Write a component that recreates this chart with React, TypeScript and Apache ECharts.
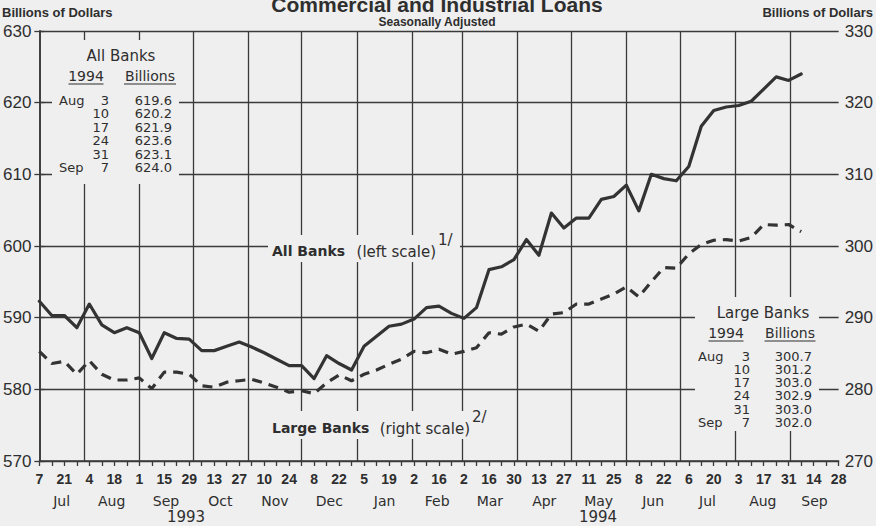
import React, { useEffect, useRef } from "react";
import * as echarts from "echarts";

// ---------- data ----------
const START_UTC = Date.UTC(1993, 6, 7); // Wed, Jul 7 1993 (first weekly observation)
const END_WEEK = 64; // axis runs to Sep 28 1994

const allBanks = [
  592.3, 590.3, 590.3, 588.6, 591.9, 589.0, 587.9, 588.6, 587.9, 584.3,
  587.9, 587.1, 587.0, 585.4, 585.4, 586.0, 586.6, 585.9, 585.1, 584.2,
  583.3, 583.3, 581.5, 584.7, 583.6, 582.7, 586.0, 587.4, 588.8, 589.1,
  589.8, 591.4, 591.6, 590.6, 589.9, 591.4, 596.7, 597.1, 598.1, 600.9,
  598.7, 604.6, 602.5, 603.9, 603.9, 606.5, 606.9, 608.5, 604.9, 610.0,
  609.4, 609.1, 611.1, 616.7, 618.9, 619.4, 619.6, 620.2, 621.9, 623.6,
  623.1, 624.0,
];

const largeBanks = [
  285.3, 283.6, 283.9, 282.1, 284.0, 282.1, 281.3, 281.3, 281.6, 280.1,
  282.4, 282.4, 282.1, 280.5, 280.3, 281.0, 281.2, 281.4, 280.9, 280.3,
  279.6, 279.8, 279.4, 280.9, 282.0, 281.2, 282.1, 282.7, 283.5, 284.2,
  285.3, 285.1, 285.6, 284.9, 285.3, 285.8, 287.9, 287.7, 288.7, 289.1,
  288.1, 290.5, 290.7, 291.9, 291.9, 292.6, 293.3, 294.3, 292.9, 295.0,
  297.0, 296.9, 298.9, 300.2, 300.8, 300.9, 300.7, 301.2, 303.0, 302.9,
  303.0, 302.0,
];

const dayTickLabels = [
  "7", "21", "4", "18", "1", "15", "29", "13", "27", "10", "24", "8", "22",
  "5", "19", "2", "16", "2", "16", "30", "13", "27", "11", "25", "8", "22",
  "6", "20", "3", "17", "31", "14", "28",
];
const monthNames = ["Jul", "Aug", "Sep", "Oct", "Nov", "Dec", "Jan", "Feb", "Mar", "Apr", "May", "Jun", "Jul", "Aug", "Sep"];
const yearLabels = ["1993", "1994"];

const leftMin = 570, leftMax = 630, rightMin = 270, rightMax = 330, yStep = 10;

const tableMonths = ["Aug", "", "", "", "", "Sep"];
const tableDays = ["3", "10", "17", "24", "31", "7"];
const allBanksTable = ["619.6", "620.2", "621.9", "623.6", "623.1", "624.0"];
const largeBanksTable = ["300.7", "301.2", "303.0", "302.9", "303.0", "302.0"];

// ---------- derived ----------
const DAY = 86400000;
const axisMaxDay = END_WEEK * 7;
const monthStartDays = monthNames.map((_, m) => (Date.UTC(1993, 6 + m, 1) - START_UTC) / DAY);
const monthBoundaries = monthStartDays.slice(1);
const monthMids = monthStartDays.map((s, m) => {
  const a = Math.max(0, s);
  const b = m + 1 < monthStartDays.length ? monthStartDays[m + 1] : axisMaxDay;
  return (a + Math.min(b, axisMaxDay)) / 2;
});
const allBanksData = allBanks.map((v, i) => [i * 7, v]);
const largeBanksData = largeBanks.map((v, i) => [i * 7, v]);

const BG = "#efefef";
const INK = "#2e2e2e";
const LINE = "#3a3a3a";
const SANS = "'DejaVu Sans', 'Noto Sans', sans-serif";
const HEAD = "'Liberation Sans', Arial, sans-serif";

function txt(x: number, y: number, text: string, font: string, align = "left", vAlign = "middle", lh?: number) {
  const style: any = { text, fill: INK, font, align, verticalAlign: vAlign };
  if (lh) style.lineHeight = lh;
  return { type: "text", x, y, z: 110, silent: true, style };
}
function rect(x: number, y: number, w: number, h: number) {
  return { type: "rect", z: 100, silent: true, shape: { x, y, width: w, height: h }, style: { fill: BG } };
}
function uline(x1: number, x2: number, y: number) {
  return { type: "line", z: 110, silent: true, shape: { x1, y1: y, x2, y2: y }, style: { stroke: INK, lineWidth: 1.2 } };
}

function tableGraphics(
  title: string, titleX: number, titleY: number,
  yearX: number, billX: number, headY: number, yearW: number, billW: number,
  values: string[], rowY0: number, rowStep: number, monX: number, dayX: number, valX: number
) {
  const f = `13px ${SANS}`;
  const top = rowY0 - rowStep / 2;
  return [
    txt(titleX, titleY, title, `15px ${SANS}`, "center"),
    txt(yearX, headY, "1994", `14px ${SANS}`, "center"),
    txt(billX, headY, "Billions", `14px ${SANS}`, "center"),
    uline(yearX - yearW / 2, yearX + yearW / 2, headY + 8),
    uline(billX - billW / 2, billX + billW / 2, headY + 8),
    txt(monX, top, tableMonths.join("\n"), f, "left", "top", rowStep),
    txt(dayX, top, tableDays.join("\n"), f, "right", "top", rowStep),
    txt(valX, top, values.join("\n"), f, "right", "top", rowStep),
  ];
}

export default function App() {
  const ref = useRef<HTMLDivElement>(null);
  useEffect(() => {
    document.body.style.margin = "0";
    const chart = echarts.init(ref.current!, undefined, { renderer: "svg" });

    const graphics: any[] = [
      rect(52, 40, 127, 144),
      ...tableGraphics("All Banks", 121, 56, 86, 150, 76, 35, 52, allBanksTable, 100, 13.5, 59, 109, 172),
      rect(695, 297, 124, 134),
      ...tableGraphics("Large Banks", 763, 313, 726, 790, 333, 35, 51, largeBanksTable, 356, 13.3, 698, 750, 812),
      // series labels
      rect(268, 235, 192, 27),
      txt(272, 251, "All Banks", `bold 14px ${SANS}`, "left"),
      txt(436, 252, "(left scale)", `15px ${SANS}`, "right"),
      txt(438, 240, "1/", `15px ${SANS}`, "left"),
      rect(268, 411, 226, 28),
      txt(272, 428, "Large Banks", `bold 14px ${SANS}`, "left"),
      txt(470, 429, "(right scale)", `15px ${SANS}`, "right"),
      txt(472, 417, "2/", `15px ${SANS}`, "left"),
      // titles
      txt(437, 4, "Commercial and Industrial Loans", `bold 21px ${HEAD}`, "center"),
      txt(437, 22, "Seasonally Adjusted", `bold 12px ${HEAD}`, "center"),
      txt(2, 12, "Billions of Dollars", `bold 13px ${HEAD}`, "left"),
      txt(873, 12, "Billions of Dollars", `bold 13px ${HEAD}`, "right"),
      // years
      txt(186, 517, yearLabels[0], `15px ${SANS}`, "center"),
      txt(598, 517, yearLabels[1], `15px ${SANS}`, "center"),
    ];

    const option: any = {
      animation: false,
      backgroundColor: BG,
      grid: { left: 39, right: 37, top: 31, bottom: 65, containLabel: false },
      xAxis: [
        {
          type: "value",
          min: 0,
          max: axisMaxDay,
          interval: 7,
          position: "bottom",
          axisLine: { show: true, lineStyle: { color: LINE, width: 1.6 } },
          axisTick: { show: true, length: 5, inside: false, lineStyle: { color: LINE, width: 1.3 } },
          splitLine: { show: false },
          axisLabel: {
            show: true,
            margin: 11,
            color: INK,
            fontFamily: HEAD,
            fontWeight: "bold",
            fontSize: 14,
            showMinLabel: true,
            showMaxLabel: true,
            formatter: (v: number) => {
              const k = Math.round(v / 7);
              return k % 2 === 0 ? dayTickLabels[k / 2] ?? "" : "";
            },
          },
        },
        {
          type: "value",
          min: 0,
          max: axisMaxDay,
          position: "bottom",
          axisLine: { show: false },
          axisTick: { show: false },
          splitLine: { show: false },
          axisLabel: {
            show: true,
            margin: 33,
            color: INK,
            fontFamily: SANS,
            fontSize: 14,
            customValues: monthMids,
            showMinLabel: true,
            showMaxLabel: true,
            formatter: (v: number) => {
              const idx = monthMids.findIndex((m) => Math.abs(m - v) < 0.01);
              return idx >= 0 ? monthNames[idx] : "";
            },
          },
        },
      ],
      yAxis: [
        {
          type: "value",
          min: leftMin,
          max: leftMax,
          interval: yStep,
          position: "left",
          axisLine: { show: true, lineStyle: { color: LINE, width: 1.6 } },
          axisTick: { show: true, length: 5, lineStyle: { color: LINE, width: 1.3 } },
          splitLine: { show: true, lineStyle: { color: LINE, width: 1.3 } },
          axisLabel: { margin: 8, color: INK, fontFamily: HEAD, fontSize: 17 },
        },
        {
          type: "value",
          min: rightMin,
          max: rightMax,
          interval: yStep,
          position: "right",
          axisLine: { show: true, lineStyle: { color: LINE, width: 1.6 } },
          axisTick: { show: true, length: 5, lineStyle: { color: LINE, width: 1.3 } },
          splitLine: { show: false },
          axisLabel: { margin: 6, color: INK, fontFamily: HEAD, fontSize: 17 },
        },
      ],
      graphic: graphics,
      series: [
        {
          name: "monthGrid",
          type: "line",
          xAxisIndex: 0,
          yAxisIndex: 0,
          data: allBanksData,
          showSymbol: false,
          symbol: "none",
          silent: true,
          z: 1,
          lineStyle: { opacity: 0, width: 0 },
          markLine: {
            silent: true,
            symbol: ["none", "none"],
            label: { show: false },
            lineStyle: { type: "solid", color: LINE, width: 1.3 },
            data: monthBoundaries.map((d) => ({ xAxis: d })),
          },
        },
        {
          name: "All Banks",
          type: "line",
          xAxisIndex: 0,
          yAxisIndex: 0,
          data: allBanksData,
          showSymbol: false,
          symbol: "none",
          z: 5,
          lineStyle: { color: "#333", width: 3.2, cap: "round", join: "round" },
        },
        {
          name: "Large Banks",
          type: "line",
          xAxisIndex: 0,
          yAxisIndex: 1,
          data: largeBanksData,
          showSymbol: false,
          symbol: "none",
          z: 5,
          lineStyle: { color: "#333", width: 3.2, type: [10, 7] },
        },
      ],
    };
    chart.setOption(option);
    return () => chart.dispose();
  }, []);
  return <div ref={ref} style={{ position: "absolute", left: 0, top: 0, width: 876, height: 526 }} />;
}
